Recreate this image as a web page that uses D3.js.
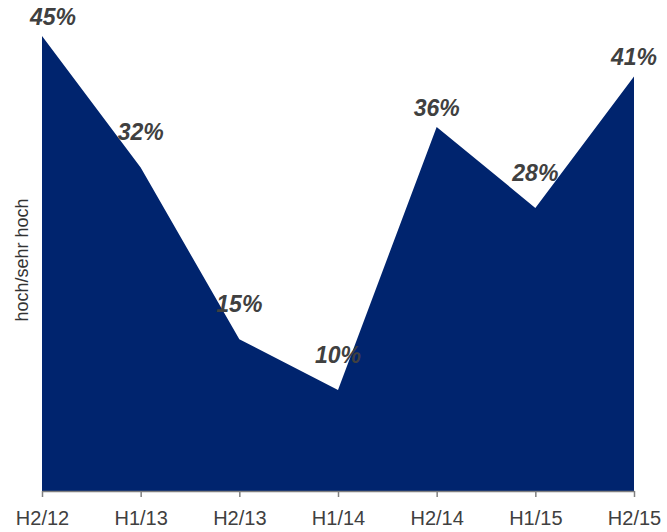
<!DOCTYPE html>
<html>
<head>
<meta charset="utf-8">
<script src="https://cdn.jsdelivr.net/npm/d3@7"></script>
<style>
  body { margin: 0; background: #fff; }
  svg { display: block; font-family: "Liberation Sans", Arial, sans-serif; }
</style>
</head>
<body>
<svg id="chart" width="667" height="532"></svg>
<script>
var periods = ["H2/12", "H1/13", "H2/13", "H1/14", "H2/14", "H1/15", "H2/15"];
var values = [45, 32, 15, 10, 36, 28, 41];
var yLabel = "hoch/sehr hoch";

var svg = d3.select("#chart");

var x = d3.scalePoint()
  .domain(periods)
  .range([42, 634]);

var y = d3.scaleLinear()
  .domain([0, 45])
  .range([491, 36]);

var data = periods.map(function(p, i) { return { p: p, v: values[i], i: i }; });

// area
var area = d3.area()
  .x(function(d) { return x(d.p); })
  .y0(y(0))
  .y1(function(d) { return y(d.v); });

svg.append("path")
  .datum(data)
  .attr("d", area)
  .attr("fill", "#00246e");

// x axis
var xAxis = svg.append("g")
  .attr("transform", "translate(0," + y(0) + ")")
  .call(d3.axisBottom(x).tickSizeInner(6).tickSizeOuter(0).tickPadding(14));

xAxis.select(".domain").attr("stroke", "#808080").attr("stroke-width", 1.5);
xAxis.selectAll(".tick line").attr("stroke", "#808080").attr("stroke-width", 1.5);
xAxis.selectAll(".tick text")
  .attr("fill", "#404040")
  .attr("font-family", "Liberation Sans, Arial, sans-serif")
  .attr("font-size", 20);

// y label
svg.append("text")
  .attr("transform", "translate(28,260) rotate(-90)")
  .attr("text-anchor", "middle")
  .attr("fill", "#333")
  .style("font-size", "18px")
  .text(yLabel);

// value labels
function isPeak(d) {
  var prev = d.i > 0 ? values[d.i - 1] : -Infinity;
  var next = d.i < values.length - 1 ? values[d.i + 1] : -Infinity;
  return d.v > prev && d.v > next;
}

svg.append("g")
  .selectAll("text")
  .data(data)
  .enter()
  .append("text")
  .attr("x", function(d) { return Math.max(x(d.p), 53); })
  .attr("y", function(d) { return y(d.v) - (isPeak(d) ? 11 : 27); })
  .attr("text-anchor", "middle")
  .attr("fill", "#404040")
  .style("font-size", "23px")
  .style("font-weight", "bold")
  .style("font-style", "italic")
  .text(function(d) { return d.v + "%"; });
</script>
</body>
</html>
